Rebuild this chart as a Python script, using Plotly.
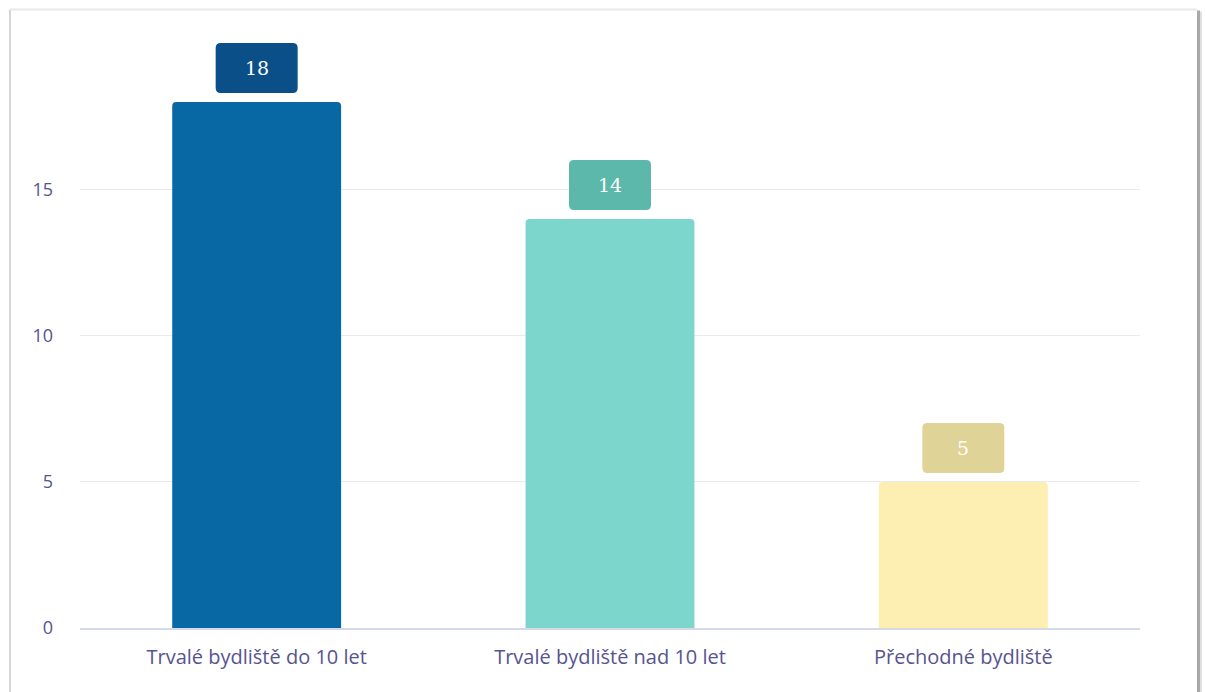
import plotly.graph_objects as go

categories = ["Trvalé bydliště do 10 let", "Trvalé bydliště nad 10 let", "Přechodné bydliště"]
values = [18, 14, 5]
bar_colors = ["#0868a3", "#7dd6cc", "#fdefb2"]
label_colors = ["#0a4f87", "#5bb8ab", "#e0d398"]
y_ticks = [0, 5, 10, 15]

W, H = 1205, 692
ymax = 20.5
unit_px = 29.2
L, R, B = 80, 65, 64
ph = ymax * unit_px
T = H - B - ph
pw = W - L - R

def px_x(x):
    return (x - L) / pw

def px_y(y):
    return (H - B - y) / ph

fig = go.Figure()
fig.add_trace(go.Bar(
    x=categories, y=values, marker=dict(color=bar_colors, line=dict(width=0)),
    width=0.478, hoverinfo="skip", showlegend=False, cliponaxis=False,
))

shapes = []
# card border / shadow
shapes.append(dict(type="line", xref="paper", yref="paper", x0=px_x(10), x1=px_x(10),
                   y0=px_y(10), y1=px_y(700), line=dict(color="#d6d6d6", width=2), layer="below"))
shapes.append(dict(type="line", xref="paper", yref="paper", x0=px_x(10), x1=px_x(1197),
                   y0=px_y(10), y1=px_y(10), line=dict(color="#e8e8e8", width=2), layer="below"))
shapes.append(dict(type="line", xref="paper", yref="paper", x0=px_x(1198.5), x1=px_x(1198.5),
                   y0=px_y(11), y1=px_y(700), line=dict(color="#a8a8a8", width=3), layer="below"))
shapes.append(dict(type="line", xref="paper", yref="paper", x0=px_x(1201), x1=px_x(1201),
                   y0=px_y(12), y1=px_y(700), line=dict(color="#e0e0e0", width=2), layer="below"))

bw, bh, r, gap = 82, 50, 5, 9
annotations = []
for c, v, col in zip(categories, values, label_colors):
    x0, x1 = -bw / 2, bw / 2
    y0, y1 = gap, gap + bh
    path = (f"M {x0+r},{y0} L {x1-r},{y0} Q {x1},{y0} {x1},{y0+r} L {x1},{y1-r} "
            f"Q {x1},{y1} {x1-r},{y1} L {x0+r},{y1} Q {x0},{y1} {x0},{y1-r} "
            f"L {x0},{y0+r} Q {x0},{y0} {x0+r},{y0} Z")
    shapes.append(dict(type="path", xref="x", yref="y", xsizemode="pixel", ysizemode="pixel",
                       xanchor=c, yanchor=v, path=path, fillcolor=col, line=dict(width=0),
                       layer="above"))
    annotations.append(dict(x=c, y=v, xref="x", yref="y", text=str(v), showarrow=False,
                            yshift=gap + bh / 2, font=dict(family="DejaVu Serif", size=19, color="white")))

fig.update_layout(
    width=W, height=H,
    margin=dict(l=L, r=R, t=T, b=B),
    paper_bgcolor="white", plot_bgcolor="white",
    barcornerradius=4,
    shapes=shapes, annotations=annotations,
    font=dict(family="Open Sans", color="#57548f"),
    xaxis=dict(showgrid=False, showline=True, linecolor="#d5d9ea", linewidth=2,
               tickfont=dict(size=20, color="#57548f"), ticks="", ticklabelstandoff=10,
               fixedrange=True),
    yaxis=dict(range=[0, ymax], tickvals=y_ticks, showgrid=True, gridcolor="#e9e9ef",
               gridwidth=1, zeroline=False, showline=False,
               tickfont=dict(size=18, color="#57548f"), ticks="", ticklabelstandoff=26,
               fixedrange=True),
)

fig.write_html("out.html")
